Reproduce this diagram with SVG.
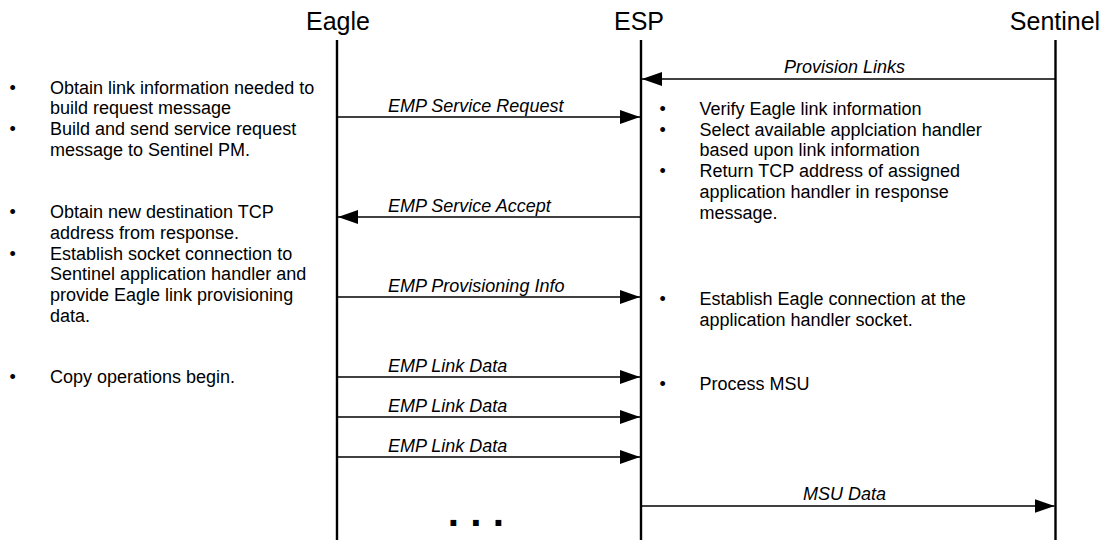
<svg xmlns="http://www.w3.org/2000/svg" width="1112" height="540" viewBox="0 0 1112 540">
<style>
text{font-family:"Liberation Sans",Arial,Helvetica,sans-serif;fill:#000}
.hdr{font-size:25px;text-anchor:middle}
.body{font-size:18px}
.lbl{font-size:18px;font-style:italic}
.life{stroke:#000;stroke-width:2.4;fill:none}
.msg{stroke:#000;stroke-width:1.5;fill:none;marker-end:url(#ah)}
.dots{font-size:40.5px;font-weight:bold}
</style>
<defs>
<marker id="ah" markerUnits="userSpaceOnUse" markerWidth="20" markerHeight="14" refX="20" refY="7" orient="auto">
<path d="M0,0 L20,7 L0,14 z" fill="#000"/>
</marker>
</defs>
<rect width="1112" height="540" fill="#fff"/>
<g id="eagle">
<text class="hdr" x="338" y="30">Eagle</text>
<line class="life" x1="337" y1="40" x2="337" y2="540"/>
</g>
<g id="esp">
<text class="hdr" x="639" y="30">ESP</text>
<line class="life" x1="641" y1="40" x2="641" y2="540"/>
</g>
<g id="sentinel">
<text class="hdr" x="1055" y="30">Sentinel</text>
<line class="life" x1="1055.5" y1="40" x2="1055.5" y2="540"/>
</g>
<g id="eagle-notes" class="body">
<text x="9.5" y="93.5">•</text>
<text x="50" y="93.5">Obtain link information needed to</text>
<text x="50" y="114.2">build request message</text>
<text x="9.5" y="134.9">•</text>
<text x="50" y="134.9">Build and send service request</text>
<text x="50" y="155.6">message to Sentinel PM.</text>
<text x="9.5" y="218">•</text>
<text x="50" y="218">Obtain new destination TCP</text>
<text x="50" y="238.8">address from response.</text>
<text x="9.5" y="259.6">•</text>
<text x="50" y="259.6">Establish socket connection to</text>
<text x="50" y="280.4">Sentinel application handler and</text>
<text x="50" y="301.2">provide Eagle link provisioning</text>
<text x="50" y="322">data.</text>
<text x="9.5" y="383">•</text>
<text x="50" y="383">Copy operations begin.</text>
</g>
<g id="esp-notes" class="body">
<text x="659.5" y="115">•</text>
<text x="699.5" y="115">Verify Eagle link information</text>
<text x="659.5" y="135.7">•</text>
<text x="699.5" y="135.7">Select available applciation handler</text>
<text x="699.5" y="156.4">based upon link information</text>
<text x="659.5" y="177.1">•</text>
<text x="699.5" y="177.1">Return TCP address of assigned</text>
<text x="699.5" y="197.8">application handler in response</text>
<text x="699.5" y="218.5">message.</text>
<text x="659.5" y="305">•</text>
<text x="699.5" y="305">Establish Eagle connection at the</text>
<text x="699.5" y="326">application handler socket.</text>
<text x="659.5" y="390">•</text>
<text x="699.5" y="390">Process MSU</text>
</g>
<g id="connectors">
<line class="msg" x1="1055" y1="79" x2="642" y2="79"/>
<text class="lbl" x="784" y="73">Provision Links</text>
<line class="msg" x1="337" y1="117" x2="640" y2="117"/>
<text class="lbl" x="388" y="112">EMP Service Request</text>
<line class="msg" x1="641" y1="217" x2="338" y2="217"/>
<text class="lbl" x="388" y="212">EMP Service Accept</text>
<line class="msg" x1="337" y1="297" x2="640" y2="297"/>
<text class="lbl" x="388" y="292">EMP Provisioning Info</text>
<line class="msg" x1="337" y1="377" x2="640" y2="377"/>
<text class="lbl" x="388" y="372">EMP Link Data</text>
<line class="msg" x1="337" y1="417" x2="640" y2="417"/>
<text class="lbl" x="388" y="412">EMP Link Data</text>
<line class="msg" x1="337" y1="457" x2="640" y2="457"/>
<text class="lbl" x="388" y="452">EMP Link Data</text>
<line class="msg" x1="641" y1="506" x2="1054.5" y2="506"/>
<text class="lbl" x="803" y="500">MSU Data</text>
</g>
<text class="dots" x="447.7" y="525.6">. . .</text>
</svg>
